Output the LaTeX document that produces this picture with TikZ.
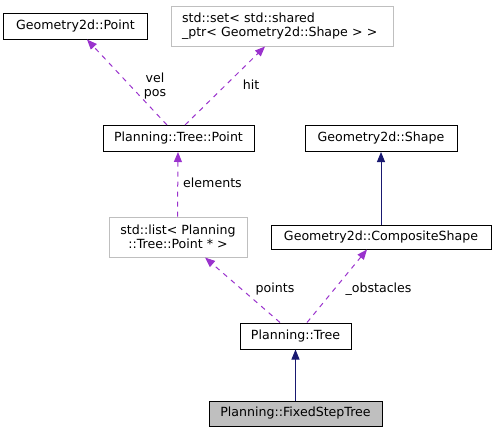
\documentclass[tikz,border=0pt]{standalone}
\usepackage{fontspec}
\setmainfont{DejaVu Sans}
\usetikzlibrary{arrows.meta}
\definecolor{deppurple}{HTML}{9A32CD}
\definecolor{inhblue}{HTML}{191970}
\definecolor{boxgray}{HTML}{BFBFBF}
\begin{document}
\begin{tikzpicture}[x=1bp,y=-1bp,
  every node/.style={font=\fontsize{12.6bp}{14bp}\selectfont, inner sep=0pt},
  cls/.style={draw=black, line width=1bp, fill=white, minimum height=26bp},
  ext/.style={draw=boxgray, line width=1bp, fill=white, minimum height=40bp},
  cur/.style={cls, fill=boxgray},
  dep/.style={draw=deppurple, line width=1bp, dash pattern=on 5bp off 5bp, -{Triangle[length=10bp,width=8bp,fill=deppurple]}},
  inh/.style={draw=inhblue, line width=1bp, -{Triangle[length=10bp,width=8bp,fill=inhblue]}},
  lbl/.style={font=\fontsize{12.6bp}{14bp}\selectfont, align=center}]
\useasboundingbox (0,0) rectangle (496,432);
\node[cls, minimum width=143bp] (gpt) at (75.5,26) {Geometry2d::Point};
\node[ext, minimum width=222bp, align=left, text width=200bp] (set) at (282,26) {std::set< std::shared\\\_ptr< Geometry2d::Shape > >};
\node[cls, minimum width=151bp] (tpt) at (178.5,138.5) {Planning::Tree::Point};
\node[cls, minimum width=152bp] (shape) at (381,138.5) {Geometry2d::Shape};
\node[ext, minimum width=138bp, align=center] (list) at (178,237) {std::list< Planning\\::Tree::Point * >};
\node[cls, minimum width=220bp, minimum height=24bp] (comp) at (381,237) {Geometry2d::CompositeShape};
\node[cls, minimum width=111bp] (tree) at (295.5,336) {Planning::Tree};
\node[cur, minimum width=173bp, minimum height=25bp] (fst) at (295.5,413.5) {Planning::FixedStepTree};
% dependencies
\draw[dep] ([xshift=-11.5bp]tpt.north) -- ([xshift=11.5bp]gpt.south);
\draw[dep] ([xshift=6.5bp]tpt.north) -- ([xshift=-17bp]set.south);
\draw[dep] ([xshift=-0.5bp]list.north) -- (list.north |- tpt.south);
\draw[dep] ([xshift=-15.5bp]tree.north) -- ([xshift=27bp]list.south);
\draw[dep] ([xshift=11.5bp]tree.north) -- ([xshift=-14bp]comp.south);
% inheritance
\draw[inh] (comp.north) -- (shape.south);
\draw[inh] (fst.north) -- (tree.south);
% labels
\node[lbl] (lvp) at (155,86) {vel\\pos};
\node[lbl] (lhit) at (251,85) {hit};
\node[lbl] (lel) at (212.5,183) {elements};
\node[lbl] (lpts) at (275,289) {points};
\node[lbl] (lobs) at (378.5,289) {\_obstacles};
\end{tikzpicture}
\end{document}
